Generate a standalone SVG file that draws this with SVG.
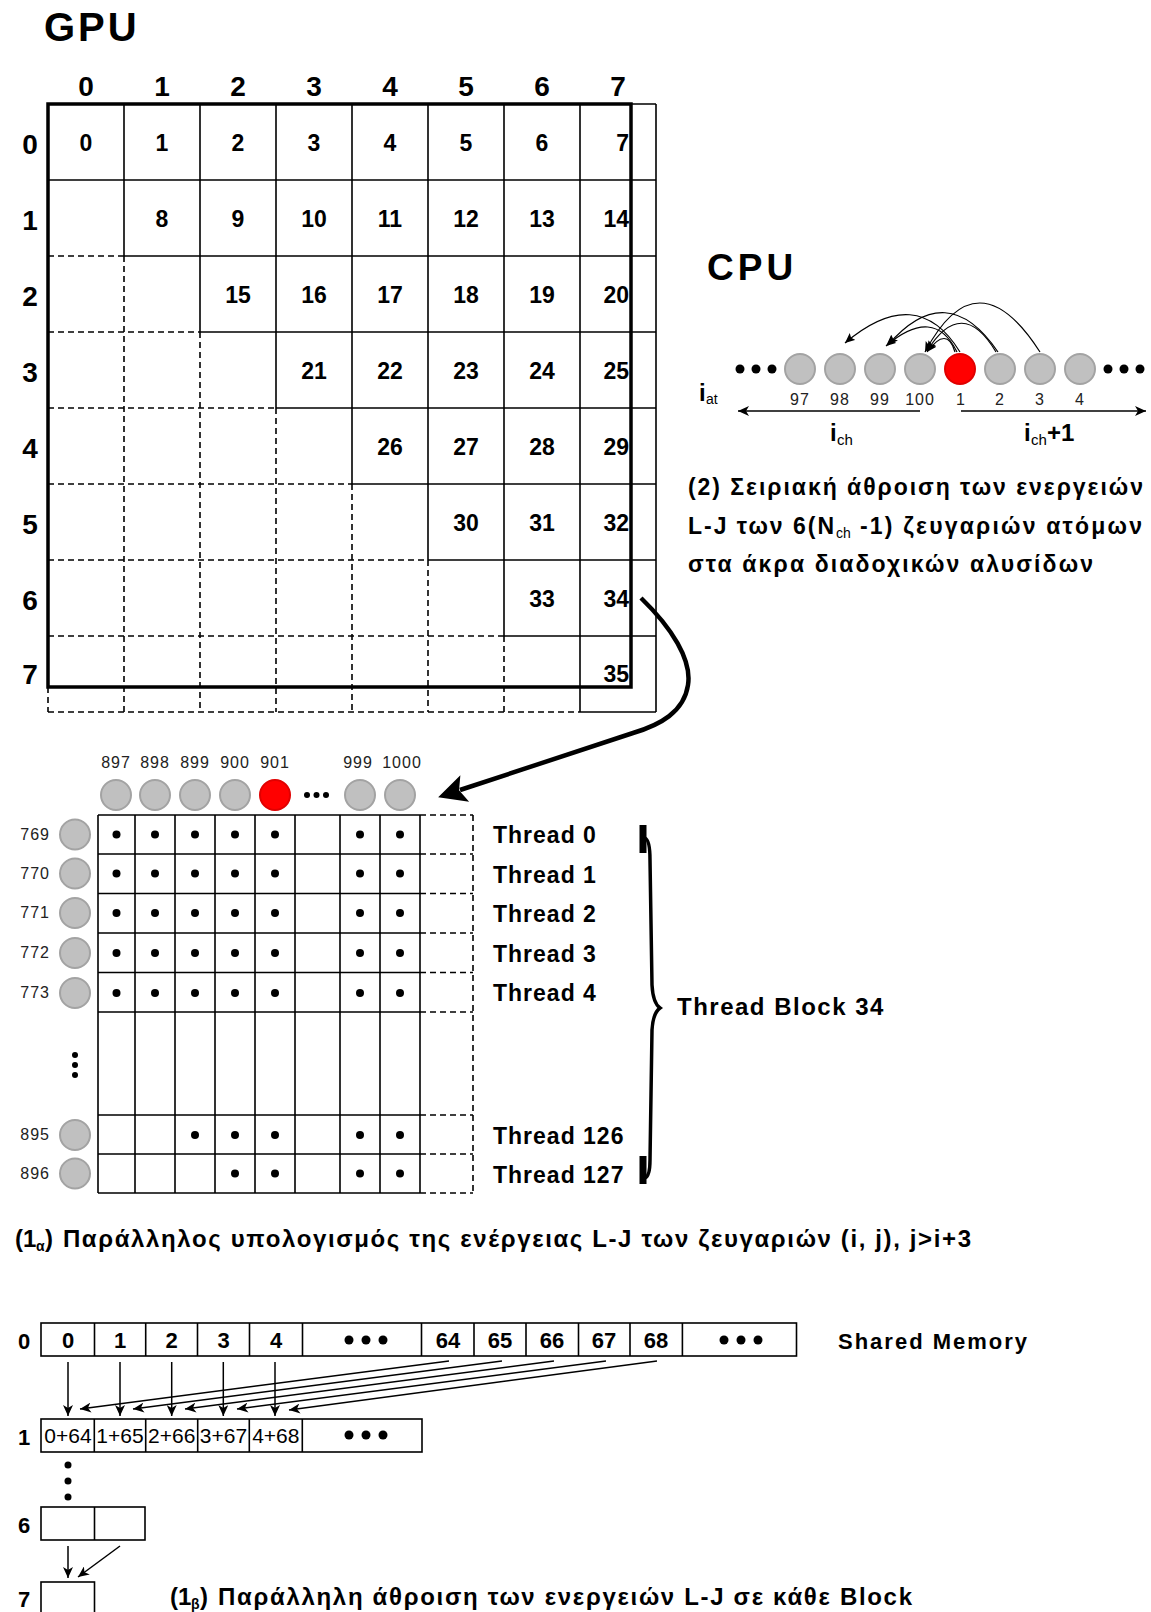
<svg xmlns="http://www.w3.org/2000/svg" width="1151" height="1612" viewBox="0 0 1151 1612">
<defs>
<style>
text{font-family:"Liberation Sans",Arial,Helvetica,sans-serif;fill:#000}
.b{font-weight:bold}
.ln{stroke:#000;stroke-width:1.6;fill:none}
.ds{stroke:#000;stroke-width:1.6;fill:none;stroke-dasharray:6 4}
.tk{stroke:#000;stroke-width:3.5;fill:none}
.gc{fill:#c0c0c0;stroke:#a3a3a3;stroke-width:2}
.rc{fill:#ff0000;stroke:#e00000;stroke-width:2}
.num{font-size:23px;font-weight:bold;text-anchor:middle}
.nume{font-size:23px;font-weight:bold;text-anchor:end}
.hdr{font-size:28px;font-weight:bold;text-anchor:middle}
.lbl{font-size:16px;letter-spacing:1px;text-anchor:middle;fill:#222}
.lble{font-size:16px;letter-spacing:1px;text-anchor:end;fill:#222}
.thr{font-size:23px;font-weight:bold;letter-spacing:1px}
.cap{font-size:23px;font-weight:bold}
.capb{font-size:24px;font-weight:bold}
.sub{font-size:14px;font-weight:bold}
.arr{stroke:#000;stroke-width:1.5;fill:none}
.carr{stroke:#000;stroke-width:1.2;fill:none}
.sm{font-size:22px;font-weight:bold;text-anchor:middle}
.sm1{font-size:21px;text-anchor:middle}
</style>
<marker id="sa" markerUnits="userSpaceOnUse" markerWidth="12" markerHeight="10" refX="11" refY="5" orient="auto"><path d="M0,0 L11,5 L0,10 L3,5 z" fill="#000"/></marker>
<marker id="ca" markerUnits="userSpaceOnUse" markerWidth="11" markerHeight="9" refX="10" refY="4.5" orient="auto"><path d="M0,0 L10,4.5 L0,9 L2,4.5 z" fill="#000"/></marker>
<marker id="ba" markerUnits="userSpaceOnUse" markerWidth="32" markerHeight="32" refX="7" refY="16" orient="auto"><path d="M30,16 L2,2 L8,16 L2,30 z" fill="#000"/></marker>
</defs>
<rect x="0" y="0" width="1151" height="1612" fill="#fff"/>

<g id="gpu-title"><text x="44" y="41" class="b" font-size="40" letter-spacing="3">GPU</text></g>

<g id="gpu-grid">
<rect x="48" y="104" width="583" height="583" class="tk"/>
<path class="ln" d="M48,104H656 M48,180H656 M124,256H656 M200,332H656 M276,408H656 M352,484H656 M428,560H656 M504,636H656 M580,712H656"/>
<path class="ds" d="M48,256H124 M48,332H200 M48,408H276 M48,484H352 M48,560H428 M48,636H504 M48,712H580"/>
<path class="ln" d="M124,104V256 M200,104V332 M276,104V408 M352,104V484 M428,104V560 M504,104V636 M580,104V712 M656,104V712"/>
<path class="ds" d="M48,687V712 M124,256V712 M200,332V712 M276,408V712 M352,484V712 M428,560V712 M504,636V712"/>
<text x="86" y="96" class="hdr">0</text><text x="162" y="96" class="hdr">1</text><text x="238" y="96" class="hdr">2</text><text x="314" y="96" class="hdr">3</text><text x="390" y="96" class="hdr">4</text><text x="466" y="96" class="hdr">5</text><text x="542" y="96" class="hdr">6</text><text x="618" y="96" class="hdr">7</text>
<text x="30" y="154" class="hdr">0</text><text x="30" y="230" class="hdr">1</text><text x="30" y="306" class="hdr">2</text><text x="30" y="382" class="hdr">3</text><text x="30" y="458" class="hdr">4</text><text x="30" y="534" class="hdr">5</text><text x="30" y="610" class="hdr">6</text><text x="30" y="684" class="hdr">7</text>
<text x="86" y="151" class="num">0</text><text x="162" y="151" class="num">1</text><text x="238" y="151" class="num">2</text><text x="314" y="151" class="num">3</text><text x="390" y="151" class="num">4</text><text x="466" y="151" class="num">5</text><text x="542" y="151" class="num">6</text><text x="629" y="151" class="nume">7</text>
<text x="162" y="227" class="num">8</text><text x="238" y="227" class="num">9</text><text x="314" y="227" class="num">10</text><text x="390" y="227" class="num">11</text><text x="466" y="227" class="num">12</text><text x="542" y="227" class="num">13</text><text x="629" y="227" class="nume">14</text>
<text x="238" y="303" class="num">15</text><text x="314" y="303" class="num">16</text><text x="390" y="303" class="num">17</text><text x="466" y="303" class="num">18</text><text x="542" y="303" class="num">19</text><text x="629" y="303" class="nume">20</text>
<text x="314" y="379" class="num">21</text><text x="390" y="379" class="num">22</text><text x="466" y="379" class="num">23</text><text x="542" y="379" class="num">24</text><text x="629" y="379" class="nume">25</text>
<text x="390" y="455" class="num">26</text><text x="466" y="455" class="num">27</text><text x="542" y="455" class="num">28</text><text x="629" y="455" class="nume">29</text>
<text x="466" y="531" class="num">30</text><text x="542" y="531" class="num">31</text><text x="629" y="531" class="nume">32</text>
<text x="542" y="607" class="num">33</text><text x="629" y="607" class="nume">34</text>
<text x="629" y="682" class="nume">35</text>
</g>

<g id="cpu">
<text x="707" y="280" class="b" font-size="37" letter-spacing="4">CPU</text>
<circle cx="740" cy="369" r="4.5"/><circle cx="756" cy="369" r="4.5"/><circle cx="772" cy="369" r="4.5"/>
<circle cx="800" cy="369" r="15" class="gc"/><circle cx="840" cy="369" r="15" class="gc"/><circle cx="880" cy="369" r="15" class="gc"/><circle cx="920" cy="369" r="15" class="gc"/>
<circle cx="960" cy="369" r="15" class="rc"/>
<circle cx="1000" cy="369" r="15" class="gc"/><circle cx="1040" cy="369" r="15" class="gc"/><circle cx="1080" cy="369" r="15" class="gc"/>
<circle cx="1108" cy="369" r="4.5"/><circle cx="1124" cy="369" r="4.5"/><circle cx="1140" cy="369" r="4.5"/>
<text x="800" y="405" class="lbl">97</text><text x="840" y="405" class="lbl">98</text><text x="880" y="405" class="lbl">99</text><text x="920" y="405" class="lbl">100</text><text x="961" y="405" class="lbl">1</text><text x="1000" y="405" class="lbl">2</text><text x="1040" y="405" class="lbl">3</text><text x="1080" y="405" class="lbl">4</text>
<text x="699" y="401" class="b" font-size="24">i</text><text x="706" y="404" font-size="14">at</text>
<text x="830" y="441" class="b" font-size="24">i</text><text x="837" y="445" font-size="15">ch</text>
<text x="1024" y="441" class="b" font-size="24">i</text><text x="1031" y="445" font-size="15">ch</text><text x="1047" y="441" class="b" font-size="24">+1</text>
<text x="688" y="495" class="cap" textLength="455" lengthAdjust="spacing">(2) Σειριακή άθροιση των ενεργειών</text>
<text x="688" y="534" class="cap" textLength="146" lengthAdjust="spacing">L-J των 6(N</text><text x="836" y="538" font-size="14">ch</text><text x="860" y="534" class="cap" textLength="282" lengthAdjust="spacing">-1) ζευγαριών ατόμων</text>
<text x="688" y="572" class="cap" textLength="405" lengthAdjust="spacing">στα άκρα διαδοχικών αλυσίδων</text>
</g>

<g id="thread-block">
<text x="116" y="768" class="lbl">897</text><text x="155" y="768" class="lbl">898</text><text x="195" y="768" class="lbl">899</text><text x="235" y="768" class="lbl">900</text><text x="275" y="768" class="lbl">901</text><text x="358" y="768" class="lbl">999</text><text x="402" y="768" class="lbl">1000</text>
<circle cx="116" cy="795" r="15" class="gc"/><circle cx="155" cy="795" r="15" class="gc"/><circle cx="195" cy="795" r="15" class="gc"/><circle cx="235" cy="795" r="15" class="gc"/>
<circle cx="275" cy="795" r="15" class="rc"/>
<circle cx="307" cy="795" r="3"/><circle cx="316.5" cy="795" r="3"/><circle cx="326" cy="795" r="3"/>
<circle cx="360" cy="795" r="15" class="gc"/><circle cx="400" cy="795" r="15" class="gc"/>
<path class="ln" d="M98,815H420 M98,854H420 M98,893.5H420 M98,933H420 M98,972.5H420 M98,1012H420 M98,1115H420 M98,1154H420 M98,1193H420"/>
<path class="ln" d="M98,815V1193 M135,815V1193 M175,815V1193 M215,815V1193 M255,815V1193 M295,815V1193 M340,815V1193 M380,815V1193 M420,815V1193"/>
<path class="ds" d="M420,815H473 M420,854H473 M420,893.5H473 M420,933H473 M420,972.5H473 M420,1012H473 M420,1115H473 M420,1154H473 M420,1193H473 M473,815V1193"/>
<g fill="#000">
<circle cx="116.5" cy="834.5" r="4"/><circle cx="155" cy="834.5" r="4"/><circle cx="195" cy="834.5" r="4"/><circle cx="235" cy="834.5" r="4"/><circle cx="275" cy="834.5" r="4"/><circle cx="360" cy="834.5" r="4"/><circle cx="400" cy="834.5" r="4"/>
<circle cx="116.5" cy="873.5" r="4"/><circle cx="155" cy="873.5" r="4"/><circle cx="195" cy="873.5" r="4"/><circle cx="235" cy="873.5" r="4"/><circle cx="275" cy="873.5" r="4"/><circle cx="360" cy="873.5" r="4"/><circle cx="400" cy="873.5" r="4"/>
<circle cx="116.5" cy="913" r="4"/><circle cx="155" cy="913" r="4"/><circle cx="195" cy="913" r="4"/><circle cx="235" cy="913" r="4"/><circle cx="275" cy="913" r="4"/><circle cx="360" cy="913" r="4"/><circle cx="400" cy="913" r="4"/>
<circle cx="116.5" cy="953" r="4"/><circle cx="155" cy="953" r="4"/><circle cx="195" cy="953" r="4"/><circle cx="235" cy="953" r="4"/><circle cx="275" cy="953" r="4"/><circle cx="360" cy="953" r="4"/><circle cx="400" cy="953" r="4"/>
<circle cx="116.5" cy="993" r="4"/><circle cx="155" cy="993" r="4"/><circle cx="195" cy="993" r="4"/><circle cx="235" cy="993" r="4"/><circle cx="275" cy="993" r="4"/><circle cx="360" cy="993" r="4"/><circle cx="400" cy="993" r="4"/>
<circle cx="195" cy="1135" r="4"/><circle cx="235" cy="1135" r="4"/><circle cx="275" cy="1135" r="4"/><circle cx="360" cy="1135" r="4"/><circle cx="400" cy="1135" r="4"/>
<circle cx="235" cy="1173.5" r="4"/><circle cx="275" cy="1173.5" r="4"/><circle cx="360" cy="1173.5" r="4"/><circle cx="400" cy="1173.5" r="4"/>
<circle cx="75" cy="1055" r="3"/><circle cx="75" cy="1065" r="3"/><circle cx="75" cy="1075" r="3"/>
</g>
<circle cx="75" cy="834.5" r="15" class="gc"/><circle cx="75" cy="873.5" r="15" class="gc"/><circle cx="75" cy="913" r="15" class="gc"/><circle cx="75" cy="953" r="15" class="gc"/><circle cx="75" cy="993" r="15" class="gc"/><circle cx="75" cy="1135" r="15" class="gc"/><circle cx="75" cy="1173.5" r="15" class="gc"/>
<text x="50" y="840" class="lble">769</text><text x="50" y="879" class="lble">770</text><text x="50" y="918" class="lble">771</text><text x="50" y="958" class="lble">772</text><text x="50" y="998" class="lble">773</text><text x="50" y="1140" class="lble">895</text><text x="50" y="1179" class="lble">896</text>
<text x="493" y="843" class="thr">Thread 0</text><text x="493" y="883" class="thr">Thread 1</text><text x="493" y="922" class="thr">Thread 2</text><text x="493" y="962" class="thr">Thread 3</text><text x="493" y="1001" class="thr">Thread 4</text><text x="493" y="1144" class="thr">Thread 126</text><text x="493" y="1183" class="thr">Thread 127</text>
<path d="M643,825V853 M643,1156V1184" stroke="#000" stroke-width="7"/>
<path d="M645,838 Q650,840 650,860 L652,985 Q653,1003 660,1008 Q653,1013 652,1030 L650,1160 Q650,1176 645,1178" stroke="#000" stroke-width="3.5" fill="none"/>
<text x="677" y="1015" class="b" font-size="24" letter-spacing="1.5">Thread Block 34</text>
</g>

<g id="shared-memory">
<rect x="41" y="1323" width="755.5" height="33" class="ln"/>
<path class="ln" d="M94.5,1323V1356 M145.7,1323V1356 M197.5,1323V1356 M249.5,1323V1356 M302.5,1323V1356 M421.5,1323V1356 M474,1323V1356 M526,1323V1356 M578.5,1323V1356 M630,1323V1356 M682.4,1323V1356"/>
<text x="24" y="1349" class="sm" font-size="24">0</text>
<text x="68" y="1348" class="sm">0</text><text x="120" y="1348" class="sm">1</text><text x="171.6" y="1348" class="sm">2</text><text x="223.5" y="1348" class="sm">3</text><text x="276" y="1348" class="sm">4</text>
<text x="448" y="1348" class="sm">64</text><text x="500" y="1348" class="sm">65</text><text x="552" y="1348" class="sm">66</text><text x="604" y="1348" class="sm">67</text><text x="656" y="1348" class="sm">68</text>
<circle cx="349" cy="1340" r="4.5"/><circle cx="366" cy="1340" r="4.5"/><circle cx="383" cy="1340" r="4.5"/>
<circle cx="724" cy="1340" r="4.5"/><circle cx="741" cy="1340" r="4.5"/><circle cx="758" cy="1340" r="4.5"/>
<text x="838" y="1349" class="b" font-size="22" letter-spacing="2">Shared Memory</text>
<rect x="41" y="1419" width="381" height="33" class="ln"/>
<path class="ln" d="M94.3,1419V1452 M145.7,1419V1452 M197.7,1419V1452 M249.3,1419V1452 M302.3,1419V1452"/>
<text x="24" y="1445" class="sm" font-size="24">1</text>
<text x="68" y="1443" class="sm1">0+64</text><text x="120" y="1443" class="sm1">1+65</text><text x="171.7" y="1443" class="sm1">2+66</text><text x="223.5" y="1443" class="sm1">3+67</text><text x="275.8" y="1443" class="sm1">4+68</text>
<circle cx="349" cy="1435" r="4.5"/><circle cx="366" cy="1435" r="4.5"/><circle cx="383" cy="1435" r="4.5"/>
<circle cx="68" cy="1465" r="3.5"/><circle cx="68" cy="1481" r="3.5"/><circle cx="68" cy="1497" r="3.5"/>
<rect x="41" y="1507" width="104" height="33" class="ln"/>
<path class="ln" d="M94.5,1507V1540"/>
<text x="24" y="1533" class="sm" font-size="24">6</text>
<rect x="41" y="1582" width="53.5" height="40" class="ln"/>
<text x="24" y="1607" class="sm" font-size="24">7</text>
</g>

<g id="captions">
<text x="15" y="1247" class="capb">(1</text><text x="36" y="1251" class="sub">α</text><text x="45" y="1247" class="capb" textLength="926" lengthAdjust="spacing">) Παράλληλος υπολογισμός της ενέργειας L-J των ζευγαριών (i, j), j&gt;i+3</text>
<text x="170" y="1605" class="capb">(1</text><text x="191" y="1609" class="sub">β</text><text x="200" y="1605" class="capb" textLength="712" lengthAdjust="spacing">) Παράλληλη άθροιση των ενεργειών L-J σε κάθε Block</text>
</g>

<g id="connectors">
<path d="M641,598 C672,628 692,660 688,685 C684,712 660,725 633,733 L460,790" stroke="#000" stroke-width="4.5" fill="none" marker-end="url(#ba)"/>
<path class="carr" d="M960,352 Q917,282 845,343" marker-end="url(#ca)"/>
<path class="carr" d="M957,352 Q934,305 886,346" marker-end="url(#ca)"/>
<path class="carr" d="M998,352 Q947,277 888,345" marker-end="url(#ca)"/>
<path class="carr" d="M996,352 Q962,295 927,351" marker-end="url(#ca)"/>
<path class="carr" d="M1040,352 Q977,254 925,352" marker-end="url(#ca)"/>
<path class="carr" d="M955,352 Q947,325 927,352" marker-end="url(#ca)"/>
<path class="arr" d="M920,411H738" marker-end="url(#sa)"/>
<path class="arr" d="M961,411H1146" marker-end="url(#sa)"/>
<path class="arr" d="M68,1362V1416" marker-end="url(#sa)"/>
<path class="arr" d="M120,1362V1416" marker-end="url(#sa)"/>
<path class="arr" d="M171.7,1362V1416" marker-end="url(#sa)"/>
<path class="arr" d="M223.3,1362V1416" marker-end="url(#sa)"/>
<path class="arr" d="M275,1362V1416" marker-end="url(#sa)"/>
<path class="arr" d="M449,1361L80,1409" marker-end="url(#sa)"/>
<path class="arr" d="M502,1361L133,1409" marker-end="url(#sa)"/>
<path class="arr" d="M554,1361L185,1409" marker-end="url(#sa)"/>
<path class="arr" d="M606,1361L237,1409" marker-end="url(#sa)"/>
<path class="arr" d="M657,1361L289,1410" marker-end="url(#sa)"/>
<path class="arr" d="M68,1546V1578" marker-end="url(#sa)"/>
<path class="arr" d="M120,1546L78,1577" marker-end="url(#sa)"/>
</g>
</svg>
